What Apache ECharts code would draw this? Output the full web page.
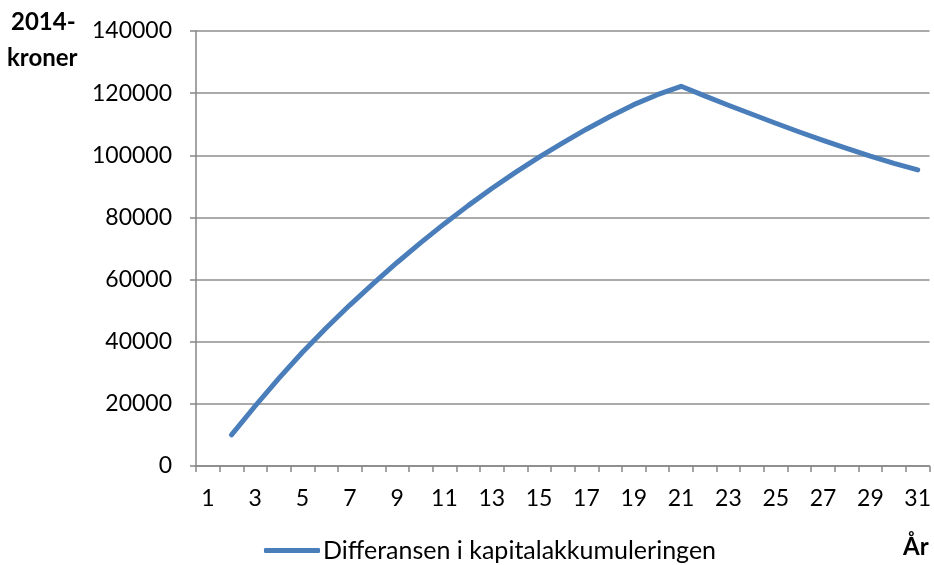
<!DOCTYPE html>
<html>
<head>
<meta charset="utf-8">
<script src="https://cdn.jsdelivr.net/npm/echarts@6/dist/echarts.min.js"></script>
<style>
html,body{margin:0;padding:0;background:#fff;}
#chart{width:934px;height:565px;}
</style>
</head>
<body>
<div id="chart"></div>
<script>
const years = ['1','2','3','4','5','6','7','8','9','10','11','12','13','14','15','16','17','18','19','20','21','22','23','24','25','26','27','28','29','30','31'];
const seriesName = 'Differansen i kapitalakkumuleringen';
const values = [null, 10000, 19300, 28200, 36600, 44400, 51800, 58800, 65500, 71900, 78000, 83800, 89300, 94500, 99400, 104000, 108400, 112500, 116300, 119500, 122200, 119100, 116100, 113200, 110300, 107500, 104800, 102200, 99700, 97400, 95300];
const yTicks = [0, 20000, 40000, 60000, 80000, 100000, 120000, 140000];
const yUnit = ['2014-', 'kroner'];
const xUnit = 'År';

const FONT = 'Lato';
const chart = echarts.init(document.getElementById('chart'), null, {renderer: 'canvas'});
chart.setOption({
  animation: false,
  backgroundColor: '#ffffff',
  grid: {left: 196, right: 2, top: 31, bottom: 99, containLabel: false},
  xAxis: {
    type: 'category',
    data: years,
    boundaryGap: true,
    axisLine: {lineStyle: {color: '#868686', width: 1.5}},
    axisTick: {show: true, interval: 0, length: 6, lineStyle: {color: '#868686', width: 1.5}},
    axisLabel: {interval: 1, color: '#000', fontFamily: FONT, fontSize: 23, margin: 21},
    splitLine: {show: false}
  },
  yAxis: {
    type: 'value',
    min: yTicks[0],
    max: yTicks[yTicks.length - 1],
    interval: yTicks[1] - yTicks[0],
    axisLine: {show: true, lineStyle: {color: '#868686', width: 1.5}},
    axisTick: {show: true, length: 6, lineStyle: {color: '#868686', width: 1.5}},
    axisLabel: {color: '#000', fontFamily: FONT, fontSize: 23, margin: 24, formatter: function (v) { return String(v); }},
    splitLine: {show: true, lineStyle: {color: '#8e8e8e', width: 1.5}}
  },
  legend: {
    left: 259,
    top: 533,
    icon: 'roundRect',
    itemWidth: 56,
    itemHeight: 5,
    itemGap: 4,
    textStyle: {color: '#000', fontFamily: FONT, fontSize: 25, padding: [0,0,0,-2]},
    data: [seriesName]
  },
  series: [{
    name: seriesName,
    type: 'line',
    data: values,
    symbol: 'none',
    smooth: false,
    connectNulls: false,
    lineStyle: {color: '#4a7ebb', width: 5, cap: 'round', join: 'round'},
    itemStyle: {color: '#4a7ebb'}
  }],
  graphic: [
    {type: 'text', left: 11, top: 10, style: {text: yUnit[0], font: 'bold 24px ' + FONT, fill: '#000'}},
    {type: 'text', left: 7, top: 46, style: {text: yUnit[1], font: 'bold 24px ' + FONT, fill: '#000'}},
    {type: 'text', left: 903, top: 535, style: {text: xUnit, font: 'bold 24px ' + FONT, fill: '#000'}}
  ]
});
</script>
</body>
</html>
